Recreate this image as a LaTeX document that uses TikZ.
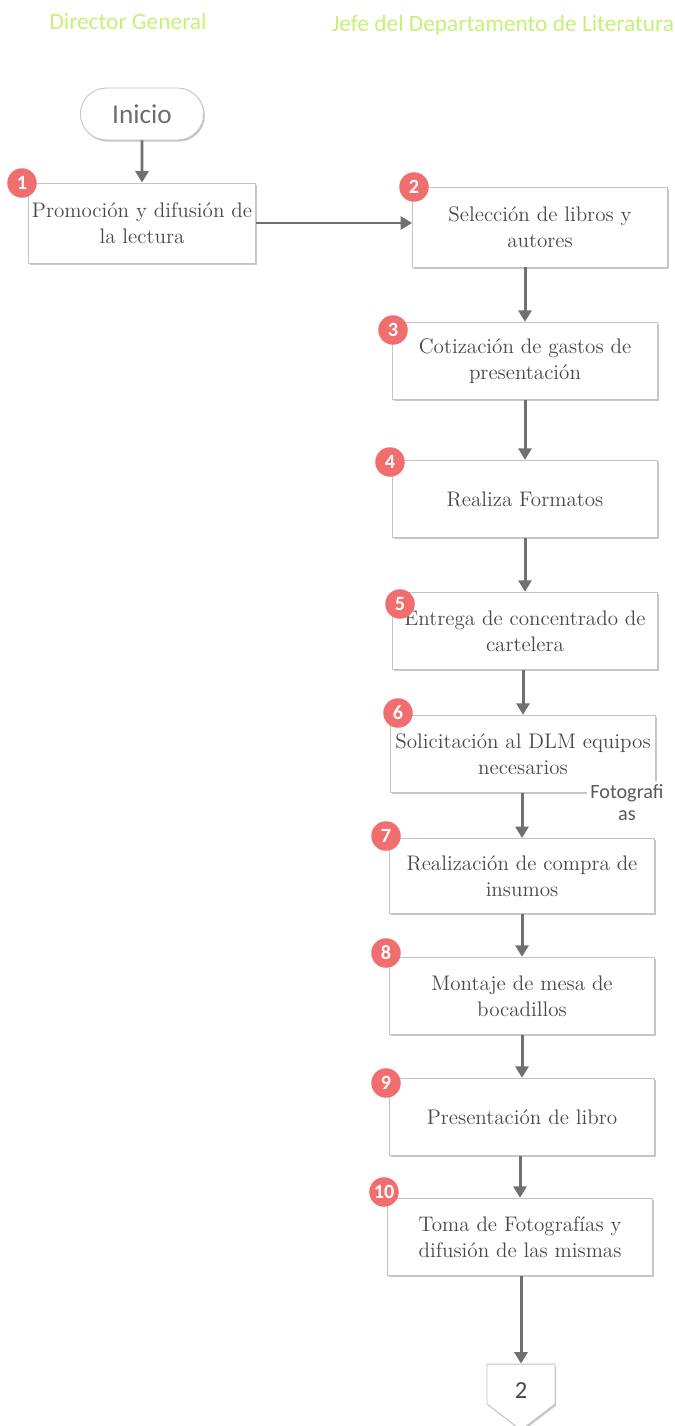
\documentclass[tikz,border=0pt]{standalone}
\usepackage{fontspec}
\newfontfamily\lblfont{Carlito}
\usetikzlibrary{positioning,arrows.meta,shapes.misc,shapes.symbols,shadows}
\definecolor{hdrgreen}{RGB}{198,240,118}
\definecolor{boxline}{RGB}{196,196,196}
\definecolor{txtgray}{RGB}{72,72,72}
\definecolor{flowgray}{RGB}{112,112,112}
\definecolor{badgered}{RGB}{241,110,110}
\tikzset{
  >={Triangle[length=2.3mm,width=2.6mm]},
  x=0.02cm,y=-0.02cm,
  hdr/.style={font=\lblfont\fontsize{13.3}{15}\selectfont,text=hdrgreen},
  softshadow/.style={drop shadow={shadow xshift=0.7pt,shadow yshift=-0.9pt,
    opacity=0.22,fill=black}},
  startbox/.style={rounded rectangle,draw=boxline,line width=0.5pt,fill=white,
    minimum width=2.7cm,minimum height=1.04cm,text=txtgray!80,
    font=\lblfont\fontsize{15.5}{17}\selectfont,softshadow},
  procbox/.style={draw=boxline,line width=0.5pt,fill=white,align=center,
    minimum width=5.3cm,minimum height=1.55cm,inner sep=2pt,text=txtgray,
    font=\fontsize{12}{14.6}\selectfont,softshadow},
  badge/.style={circle,fill=badgered,text=white,inner sep=0pt,
    minimum size=5.9mm,font=\lblfont\bfseries\fontsize{11.5}{11.5}\selectfont},
  flow/.style={->,draw=flowgray,line width=1.7pt,color=flowgray},
  notelbl/.style={fill=white,align=center,text=txtgray!90,inner sep=2pt,
    font=\lblfont\fontsize{11.5}{12.5}\selectfont},
  offpg/.style={signal,signal to=south,signal pointer angle=105,draw=boxline,
    line width=0.5pt,fill=white,minimum width=1.36cm,minimum height=0.92cm,
    inner sep=1pt,text height=17pt,text depth=0pt,text=txtgray,
    font=\lblfont\fontsize{14}{16}\selectfont,softshadow},
}
\begin{document}
\begin{tikzpicture}
  \useasboundingbox (0,0) rectangle (674,1426);
  % lane headers
  \node[hdr] (hdg) at (128,21) {Director General};
  \node[hdr] (hjd) at (503,25) {Jefe del Departamento de Literatura};
  % start
  \node[startbox] (ini) at (142,114) {Inicio};
  % process steps
  \node[procbox,minimum width=4.5cm,minimum height=1.6cm] (b1) at (142,223)
    {Promoción y difusión de\\la lectura};
  \node[procbox,minimum width=5.1cm,minimum height=1.6cm] (b2) at (540,227)
    {Selección de libros y\\autores};
  \node[procbox] (b3) at (525,361) {Cotización de gastos de\\presentación};
  \node[procbox] (b4) at (525,499) {Realiza Formatos};
  \node[procbox] (b5) at (525,631) {Entrega de concentrado de\\cartelera};
  \node[procbox] (b6) at (523,754) {Solicitación al DLM equipos\\necesarios};
  \node[procbox,minimum height=1.5cm] (b7) at (522,876)
    {Realización de compra de\\insumos};
  \node[procbox] (b8) at (522,996) {Montaje de mesa de\\bocadillos};
  \node[procbox] (b9) at (522,1117) {Presentación de libro};
  \node[procbox] (b10) at (520,1237) {Toma de Fotografías y\\difusión de las mismas};
  % note over step 6
  \node[notelbl] (fot) at (627,803) {Fotografi\\as};
  % page connector
  \node[offpg] (pg2) at (521,1384) {2};
  % step numbers
  \node[badge] (n1) at (22,183) {1};
  \node[badge] (n2) at (414,187) {2};
  \node[badge] (n3) at (393,330) {3};
  \node[badge] (n4) at (390,462) {4};
  \node[badge] (n5) at (400,604) {5};
  \node[badge] (n6) at (398,713) {6};
  \node[badge] (n7) at (386,836) {7};
  \node[badge] (n8) at (386,953) {8};
  \node[badge] (n9) at (386,1083) {9};
  \node[badge] (n10) at (384,1192) {10};
  % flow
  \draw[flow] (ini) -- (b1);
  \draw[flow] (b1.east) -- (b1.east -| b2.west);
  \draw[flow] (b2.south -| b3.north) -- (b3.north);
  \draw[flow] (b3.south -| b4.north) -- (b4.north);
  \draw[flow] (b4.south -| b5.north) -- (b5.north);
  \draw[flow] (b5.south -| b6.north) -- (b6.north);
  \draw[flow] (b6.south -| b7.north) -- (b7.north);
  \draw[flow] (b7.south -| b8.north) -- (b8.north);
  \draw[flow] (b8.south -| b9.north) -- (b9.north);
  \draw[flow] (b9.south -| b10.north) -- (b10.north);
  \draw[flow] (b10.south -| pg2.north) -- (pg2.north);
\end{tikzpicture}
\end{document}
